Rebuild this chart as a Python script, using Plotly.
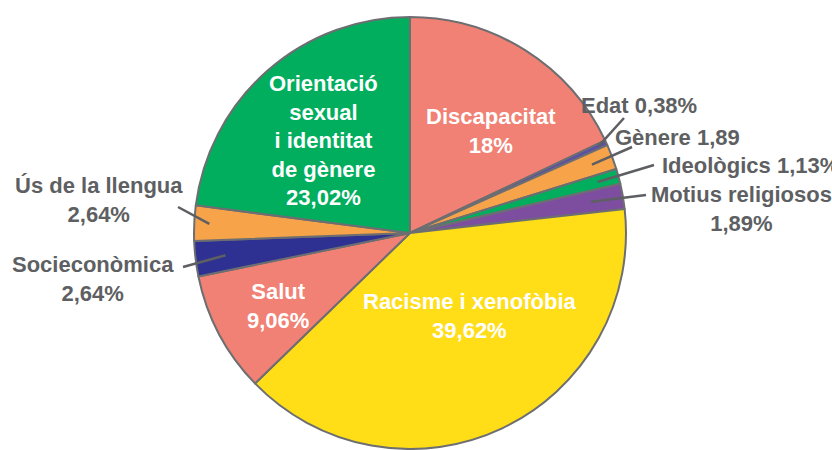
import math
import plotly.graph_objects as go

labels = ["Discapacitat", "Edat", "Gènere", "Ideològics", "Motius religiosos",
          "Racisme i xenofòbia", "Salut", "Socieconòmica", "Ús de la llengua",
          "Orientació sexual i identitat de gènere"]
values = [18, 0.38, 1.89, 1.13, 1.89, 39.62, 9.06, 2.64, 2.64, 23.02]
colors = ["#F08174", "#5B4FA6", "#F7A349", "#00AE5E", "#7D4EA0",
          "#FFDD17", "#F08174", "#2E3192", "#F7A349", "#00AE5E"]

# label texts (as in the reference)
label_texts = ["Discapacitat<br>18%", "Edat 0,38%", "Gènere 1,89", "Ideològics 1,13%",
               "Motius religiosos<br>1,89%", "Racisme i xenofòbia<br>39,62%",
               "Salut<br>9,06%", "Socieconòmica<br>2,64%", "Ús de la llengua<br>2,64%",
               "Orientació<br>sexual<br>i identitat<br>de gènere<br>23,02%"]
inside = [True, False, False, False, False, True, True, False, False, True]

W, H = 832, 450
cx, cy, R = 410, 233, 216

# label positions in pixels (layout)
label_pos = [(491, 131), (639, 106), (677, 137), (660, 166), (741, 209),
             (470, 316), (278, 306), (93, 279), (99, 200), (323, 140)]
label_anchor = ["center", "center", "center", "left", "center",
                "center", "center", "center", "center", "center"]
# where the leader line leaves the label (pixels)
leader_start = [None, (624, 118), (632, 147), (654, 165), (646, 195),
                None, None, (183, 267), (178, 207), None]
leader_r = [None, 0.96, 0.9, 0.9, 0.85, None, None, 0.86, 0.93, None]

fig = go.Figure(go.Pie(
    labels=labels, values=values, sort=False, direction="clockwise", rotation=0,
    marker=dict(colors=colors, line=dict(color="#6D6E71", width=2)),
    textinfo="none", hoverinfo="label+value", showlegend=False,
    domain=dict(x=[(cx - R) / W, (cx + R) / W], y=[(H - cy - R) / H, (H - cy + R) / H]),
))

total = sum(values)
cum = 0
annotations = []
shapes = []
for i, v in enumerate(values):
    mid = (cum + v / 2) / total * 2 * math.pi
    cum += v
    px, py = label_pos[i]
    annotations.append(dict(
        x=px / W, y=1 - py / H, xref="paper", yref="paper",
        text=label_texts[i], showarrow=False, xanchor=label_anchor[i], yanchor="middle",
        align="center",
        font=dict(family="Liberation Sans, Arial, sans-serif", size=22,
                  color="white" if inside[i] else "#5E5F62", weight="bold"),
    ))
    if leader_start[i] is not None:
        ex = cx + leader_r[i] * R * math.sin(mid)
        ey = cy - leader_r[i] * R * math.cos(mid)
        sx, sy = leader_start[i]
        shapes.append(dict(type="line", xref="paper", yref="paper",
                           x0=sx / W, y0=1 - sy / H, x1=ex / W, y1=1 - ey / H,
                           line=dict(color="#5E5F62", width=2.5)))

fig.update_layout(
    width=W, height=H, margin=dict(l=0, r=0, t=0, b=0),
    paper_bgcolor="white", plot_bgcolor="white",
    annotations=annotations, shapes=shapes,
)
fig.write_html("out.html", config={"displayModeBar": False},
               post_script="document.body.style.margin='0';")
